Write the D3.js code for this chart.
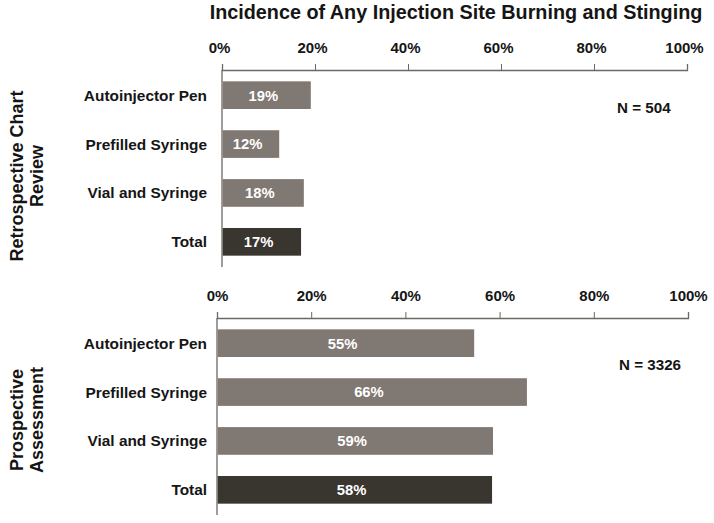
<!DOCTYPE html>
<html>
<head>
<meta charset="utf-8">
<script src="https://cdn.jsdelivr.net/npm/d3@7"></script>
<style>
  html, body { margin: 0; padding: 0; background: #fff; }
  svg { display: block; font-family: "Liberation Sans", Arial, sans-serif; font-weight: bold; }
</style>
</head>
<body>
<svg id="chart" width="714" height="523"></svg>
<script>
const title = "Incidence of Any Injection Site Burning and Stinging";
const categories = ["Autoinjector Pen", "Prefilled Syringe", "Vial and Syringe", "Total"];
const retrospectiveValues = [19.1, 12.3, 17.6, 17.0];
const prospectiveValues = [54.6, 65.8, 58.6, 58.4];
const panelTitles = [["Retrospective Chart", "Review"], ["Prospective", "Assessment"]];
const sampleSizes = ["N = 504", "N = 3326"];
const tickValues = [0, 20, 40, 60, 80, 100];

const svg = d3.select("#chart");
const grayBar = "#807873";
const darkBar = "#38362f";
const axisColor = "#6e6862";
const textColor = "#151515";

svg.append("text")
  .attr("x", 456).attr("y", 18.5)
  .attr("text-anchor", "middle")
  .attr("font-size", 19.8)
  .attr("fill", textColor)
  .text(title);

const panels = [
  { values: retrospectiveValues, x0: 222, x1: 687, yTop: 70, yBot: 267, labelDx: -3, titleY: 176, n: sampleSizes[0], nY: 108, nX: 617 },
  { values: prospectiveValues, x0: 217, x1: 688, yTop: 318, yBot: 515, labelDx: 0, titleY: 420, n: sampleSizes[1], nY: 365, nX: 619 }
];

panels.forEach((p, pi) => {
  const x = d3.scaleLinear().domain([0, 100]).range([p.x0, p.x1]);
  const y = d3.scaleBand().domain(categories).range([p.yTop, p.yBot]).paddingInner(0.434).paddingOuter(0.232);

  const axis = svg.append("g")
    .attr("transform", `translate(0,${p.yTop})`)
    .call(d3.axisTop(x).tickValues(tickValues).tickFormat(d => d + "%").tickSize(6).tickSizeOuter(6).tickPadding(11));
  axis.select(".domain").attr("stroke", axisColor).attr("stroke-width", 1.3);
  axis.selectAll(".tick line").attr("stroke", axisColor).attr("stroke-width", 1);
  axis.selectAll(".tick text")
    .attr("font-size", 15)
    .attr("font-family", "'Liberation Sans', Arial, sans-serif")
    .attr("font-weight", "bold")
    .attr("fill", textColor)
    .attr("dx", p.labelDx);

  svg.append("line")
    .attr("x1", p.x0).attr("x2", p.x0)
    .attr("y1", p.yTop).attr("y2", p.yBot)
    .attr("stroke", axisColor).attr("stroke-width", 1.3);

  const g = svg.append("g");
  g.selectAll("rect").data(p.values).join("rect")
    .attr("x", x(0) + 0.7)
    .attr("y", (d, i) => y(categories[i]))
    .attr("width", d => x(d) - x(0) - 0.7)
    .attr("height", y.bandwidth())
    .attr("fill", (d, i) => categories[i] === "Total" ? darkBar : grayBar);

  g.selectAll("text.val").data(p.values).join("text")
    .attr("class", "val")
    .attr("x", d => (x(0) + x(d)) / 2 - 3)
    .attr("y", (d, i) => y(categories[i]) + y.bandwidth() / 2)
    .attr("dy", "0.36em")
    .attr("text-anchor", "middle")
    .attr("font-size", 14.8)
    .attr("fill", "#fff")
    .text(d => Math.round(d) + "%");

  g.selectAll("text.cat").data(categories).join("text")
    .attr("class", "cat")
    .attr("x", 207)
    .attr("y", d => y(d) + y.bandwidth() / 2)
    .attr("dy", "0.36em")
    .attr("text-anchor", "end")
    .attr("font-size", 15.4)
    .attr("fill", textColor)
    .text(d => d);

  svg.append("text")
    .attr("x", p.nX).attr("y", p.nY)
    .attr("dy", "0.36em")
    .attr("font-size", 15.2)
    .attr("fill", textColor)
    .text(p.n);

  const t = svg.append("text")
    .attr("transform", `translate(0,${p.titleY}) rotate(-90)`)
    .attr("text-anchor", "middle")
    .attr("font-size", 18)
    .attr("fill", textColor);
  t.append("tspan").attr("x", 0).attr("y", 22.5).text(panelTitles[pi][0]);
  t.append("tspan").attr("x", 0).attr("y", 42.5).text(panelTitles[pi][1]);
});
</script>
</body>
</html>
